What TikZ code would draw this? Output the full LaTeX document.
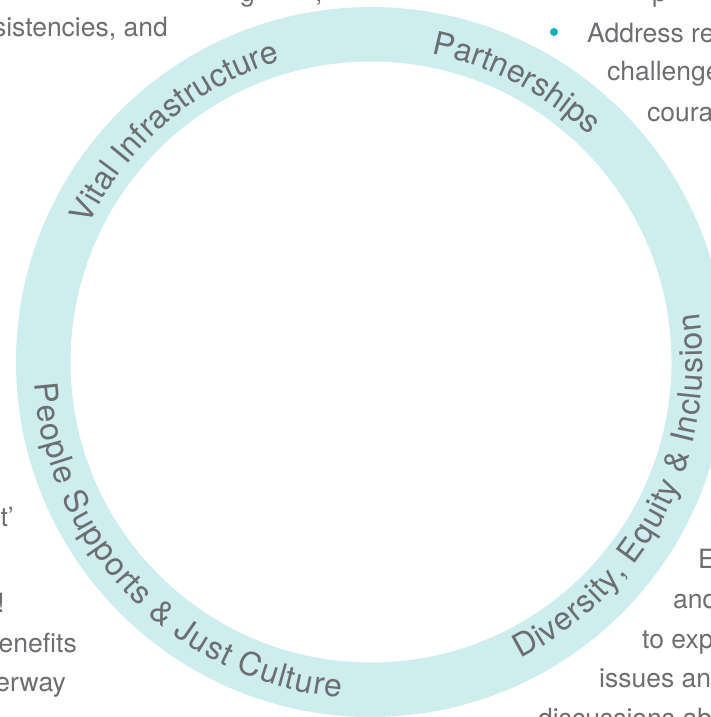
\documentclass[tikz,border=0pt]{standalone}
\usepackage{fontspec}
\setmainfont{TeX Gyre Heros}
\usetikzlibrary{decorations.text}
\definecolor{ringc}{HTML}{CDEDEE}
\definecolor{txtc}{HTML}{6D6E71}
\definecolor{bulletc}{HTML}{14AFB1}
\newcommand\ringfont{\fontsize{32}{32}\selectfont\color{txtc}}
\newcommand\parafont{\fontsize{26.5}{30}\selectfont}
\begin{document}
\begin{tikzpicture}[x=1pt,y=-1pt,
  para/.style={text=txtc, font=\parafont, inner sep=0pt},
  toplabel/.style={decorate, decoration={text along path, text align=center, text={|\ringfont|#1}}},
  botlabel/.style 2 args={decorate, decoration={text along path, text align=center, raise=#2, text={|\ringfont|#1}}}]
\useasboundingbox (0,0) rectangle (711,717);
\clip (0,0) rectangle (711,717);
\coordinate (C) at (371,362);
% ring
\fill[ringc, even odd rule] (C) circle[radius=355pt] (C) circle[radius=300.5pt];
% ring labels
\path[toplabel={Vital Infrastructure}] ([shift={(C)}]170.5:314pt) arc[start angle=170.5, end angle=90.5, radius=314pt];
\path[toplabel={Partnerships}] ([shift={(C)}]102.5:314pt) arc[start angle=102.5, end angle=22.5, radius=314pt];
\path[botlabel={Diversity, Equity {\&} Inclusion}{-18pt}] ([shift={(C)}]-82.4:314pt) arc[start angle=-82.4, end angle=27.6, radius=314pt];
\path[botlabel={People Supports {\&} Just Culture}{-23pt}] ([shift={(C)}]169.3:314pt) arc[start angle=169.3, end angle=279.3, radius=314pt];
% background text fragments, top
\node[para, anchor=base west] (t1) at (240,2) {g};
\node[para, anchor=base west] (t2) at (315,2) {,};
\node[para, anchor=base west] (t3) at (652,2) {p};
\node[para, anchor=base east] (l1) at (168,37) {sistencies, and};
% right, top
\node[circle, fill=bulletc, inner sep=0pt, minimum size=8pt] (b1) at (554,32) {};
\node[para, anchor=base west] (r1) at (587,43) {Address re};
\node[para, anchor=base west] (r2) at (607,81) {challenge};
\node[para, anchor=base west] (r3) at (647,121) {coura};
% left, bottom
\node[para, anchor=base east] (l2) at (14,526) {ct’};
\node[para, anchor=base east] (l3) at (5,612) {!};
\node[para, anchor=base east] (l4) at (77,652) {enefits};
\node[para, anchor=base east] (l5) at (66,691) {erway};
% right, bottom
\node[para, anchor=base west] (r4) at (698,568) {E};
\node[para, anchor=base west] (r5) at (673,608) {and};
\node[para, anchor=base west] (r6) at (642,648) {to exp};
\node[para, anchor=base west] (r7) at (599,687) {issues an};
\node[para, anchor=base west] (r8) at (538,727) {discussions ab};
\end{tikzpicture}
\end{document}
